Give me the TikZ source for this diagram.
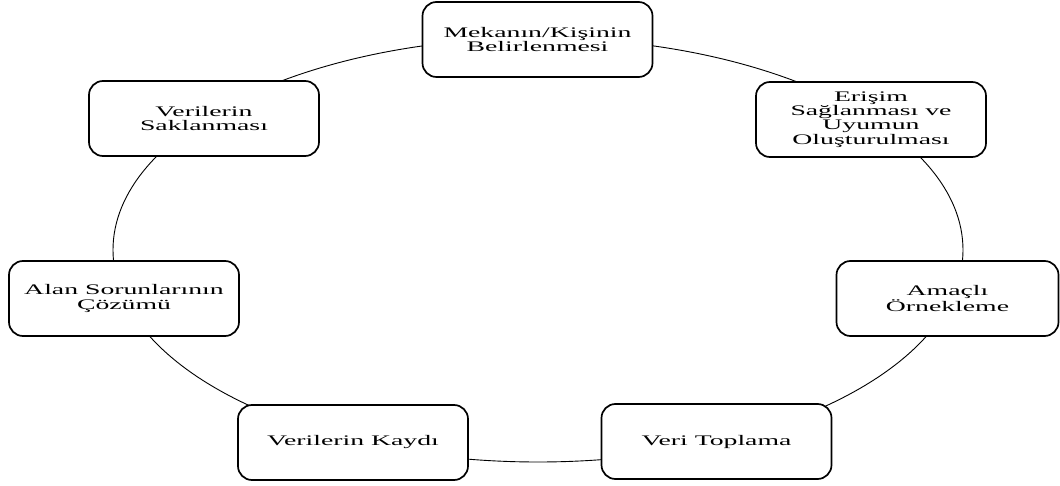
\documentclass[tikz,border=0pt]{standalone}
\usepackage{fontspec}
\setmainfont[FakeStretch=1.9]{Liberation Serif}
\usetikzlibrary{shapes.geometric}
\tikzset{
  stagebox/.style={draw=black, line width=1.7pt, fill=white, rounded corners=14pt,
    minimum width=230pt, minimum height=75pt, align=center, inner sep=2pt,
    font=\fontsize{14.6}{14.2}\selectfont},
  cycleline/.style={draw=black, line width=0.9pt}
}
\begin{document}
\begin{tikzpicture}[x=1pt,y=-1pt]
\useasboundingbox (0,0) rectangle (1060,486);
\node[ellipse, cycleline, minimum width=850pt, minimum height=424pt, inner sep=0pt] (cyc) at (538,250) {};
\node[stagebox] (mek) at (537.5,39.5) {Mekanın/Kişinin\\Belirlenmesi};
\node[stagebox] (eri) at (871,119.5) {Erişim\\Sağlanması ve\\Uyumun\\Oluşturulması};
\node[stagebox, minimum width=222pt] (ama) at (947.5,298.5) {Amaçlı\\Örnekleme};
\node[stagebox] (ver) at (716.5,441.5) {Veri Toplama};
\node[stagebox] (kay) at (353,442.5) {Verilerin Kaydı};
\node[stagebox] (ala) at (124,298.5) {Alan Sorunlarının\\Çözümü};
\node[stagebox] (sak) at (204,118.5) {Verilerin\\Saklanması};
\end{tikzpicture}
\end{document}
